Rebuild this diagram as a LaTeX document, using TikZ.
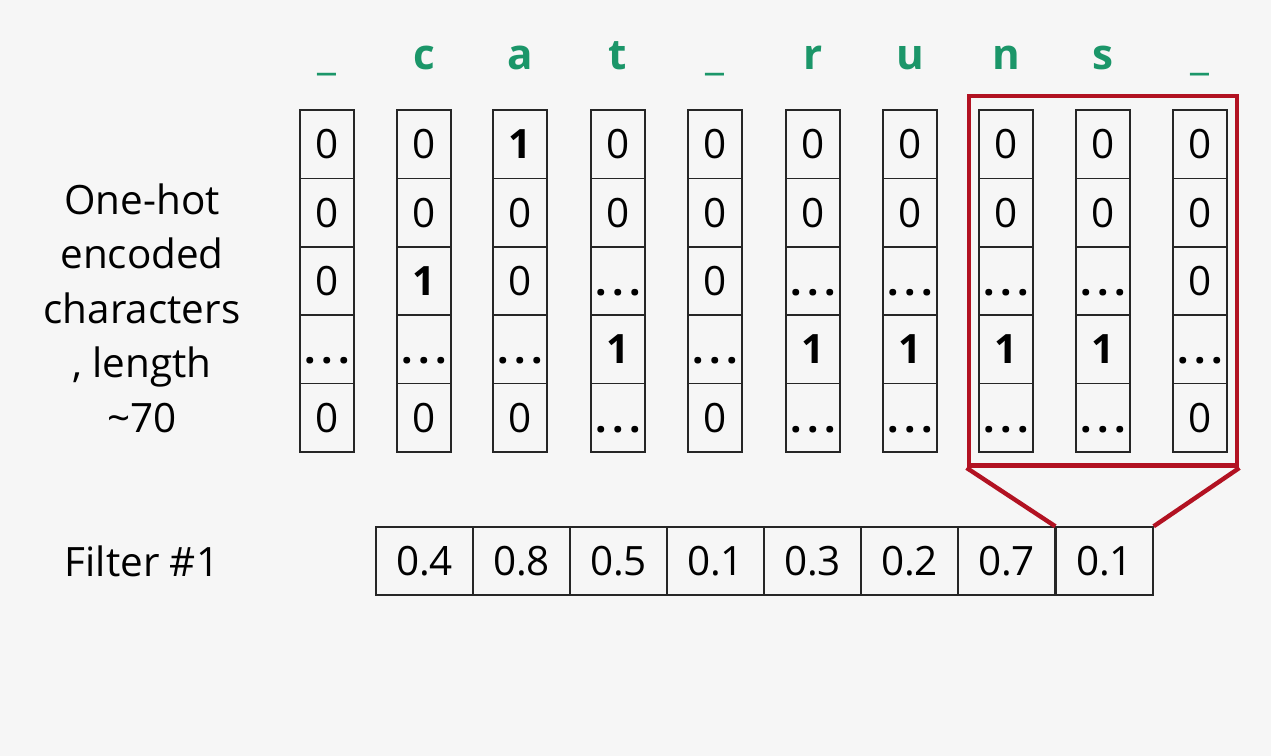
\documentclass[tikz,border=0pt]{standalone}
\usepackage{fontspec}
\setmainfont{Open Sans}
\usetikzlibrary{fit}
\definecolor{letgreen}{RGB}{27,150,105}
\definecolor{winred}{RGB}{178,18,34}
\definecolor{bgrey}{RGB}{246,246,246}
\tikzset{
  cell/.style={draw=black!85, line width=0.8pt, minimum width=1.08cm, minimum height=1.368cm,
    inner sep=0pt, font=\fontsize{23}{27}\selectfont},
  fcell/.style={cell, minimum width=1.94cm, minimum height=1.36cm},
  letter/.style={anchor=base, text=letgreen, font=\fontsize{24}{28}\selectfont\bfseries},
  label/.style={align=center, font=\fontsize{23}{31}\selectfont}
}
\newcommand{\one}{\textbf{1}}
\newcommand{\dts}{\vphantom{0}\textbf{.\kern0.14em.\kern0.14em.}}
\begin{document}
\begin{tikzpicture}[x=0.02cm, y=-0.02cm]
  \fill[bgrey] (0,0) rectangle (1271,756);
  \useasboundingbox (0,0) rectangle (1271,756);

  % letters _ c a t _ r u n s _
  \node[letter, font=\fontsize{24}{28}\selectfont] (h1) at (327, 70) {\_};
  \node[letter] (h2) at (424, 70) {c};
  \node[letter] (h3) at (520, 70) {a};
  \node[letter] (h4) at (618, 70) {t};
  \node[letter, font=\fontsize{24}{28}\selectfont] (h5) at (715, 70) {\_};
  \node[letter] (h6) at (813, 70) {r};
  \node[letter] (h7) at (910, 70) {u};
  \node[letter] (h8) at (1006, 70) {n};
  \node[letter] (h9) at (1103, 70) {s};
  \node[letter, font=\fontsize{24}{28}\selectfont] (h10) at (1200, 70) {\_};

  % column 1
  \node[cell] (a1) at (327, 144.2) {0};
  \node[cell] (a2) at (327, 212.6) {0};
  \node[cell] (a3) at (327, 281) {0};
  \node[cell] (a4) at (327, 349.4) {\dts};
  \node[cell] (a5) at (327, 417.8) {0};
  % column 2
  \node[cell] (b1) at (424, 144.2) {0};
  \node[cell] (b2) at (424, 212.6) {0};
  \node[cell] (b3) at (424, 281) {\one};
  \node[cell] (b4) at (424, 349.4) {\dts};
  \node[cell] (b5) at (424, 417.8) {0};
  % column 3
  \node[cell] (c1) at (520, 144.2) {\one};
  \node[cell] (c2) at (520, 212.6) {0};
  \node[cell] (c3) at (520, 281) {0};
  \node[cell] (c4) at (520, 349.4) {\dts};
  \node[cell] (c5) at (520, 417.8) {0};
  % column 4
  \node[cell] (d1) at (618, 144.2) {0};
  \node[cell] (d2) at (618, 212.6) {0};
  \node[cell] (d3) at (618, 281) {\dts};
  \node[cell] (d4) at (618, 349.4) {\one};
  \node[cell] (d5) at (618, 417.8) {\dts};
  % column 5
  \node[cell] (e1) at (715, 144.2) {0};
  \node[cell] (e2) at (715, 212.6) {0};
  \node[cell] (e3) at (715, 281) {0};
  \node[cell] (e4) at (715, 349.4) {\dts};
  \node[cell] (e5) at (715, 417.8) {0};
  % column 6
  \node[cell] (f1) at (813, 144.2) {0};
  \node[cell] (f2) at (813, 212.6) {0};
  \node[cell] (f3) at (813, 281) {\dts};
  \node[cell] (f4) at (813, 349.4) {\one};
  \node[cell] (f5) at (813, 417.8) {\dts};
  % column 7
  \node[cell] (g1) at (910, 144.2) {0};
  \node[cell] (g2) at (910, 212.6) {0};
  \node[cell] (g3) at (910, 281) {\dts};
  \node[cell] (g4) at (910, 349.4) {\one};
  \node[cell] (g5) at (910, 417.8) {\dts};
  % column 8
  \node[cell] (k1) at (1006, 144.2) {0};
  \node[cell] (k2) at (1006, 212.6) {0};
  \node[cell] (k3) at (1006, 281) {\dts};
  \node[cell] (k4) at (1006, 349.4) {\one};
  \node[cell] (k5) at (1006, 417.8) {\dts};
  % column 9
  \node[cell] (m1) at (1103, 144.2) {0};
  \node[cell] (m2) at (1103, 212.6) {0};
  \node[cell] (m3) at (1103, 281) {\dts};
  \node[cell] (m4) at (1103, 349.4) {\one};
  \node[cell] (m5) at (1103, 417.8) {\dts};
  % column 10
  \node[cell] (p1) at (1200, 144.2) {0};
  \node[cell] (p2) at (1200, 212.6) {0};
  \node[cell] (p3) at (1200, 281) {0};
  \node[cell] (p4) at (1200, 349.4) {\dts};
  \node[cell] (p5) at (1200, 417.8) {0};

  % filter
  \node[fcell] (w1) at (424.5, 561) {0.4};
  \node[fcell] (w2) at (521.5, 561) {0.8};
  \node[fcell] (w3) at (618.5, 561) {0.5};
  \node[fcell] (w4) at (715.5, 561) {0.1};
  \node[fcell] (w5) at (812.5, 561) {0.3};
  \node[fcell] (w6) at (909.5, 561) {0.2};
  \node[fcell] (w7) at (1006.5, 561) {0.7};
  \node[fcell] (w8) at (1104.5, 561) {0.1};

  % labels
  \node[label] (enc) at (142, 308) {One-hot\\encoded\\characters\\, length\\\textasciitilde 70};
  \node[label] (filt) at (142, 561) {Filter \#1};

  % window
  \node[draw=winred, line width=2.5pt, inner xsep=0.19cm, inner ysep=0.26cm,
        fit=(k1)(p5)] (win) {};
  \draw[winred, line width=2.5pt] (win.south west) -- (w8.north west);
  \draw[winred, line width=2.5pt] (win.south east) -- (w8.north east);
\end{tikzpicture}
\end{document}
